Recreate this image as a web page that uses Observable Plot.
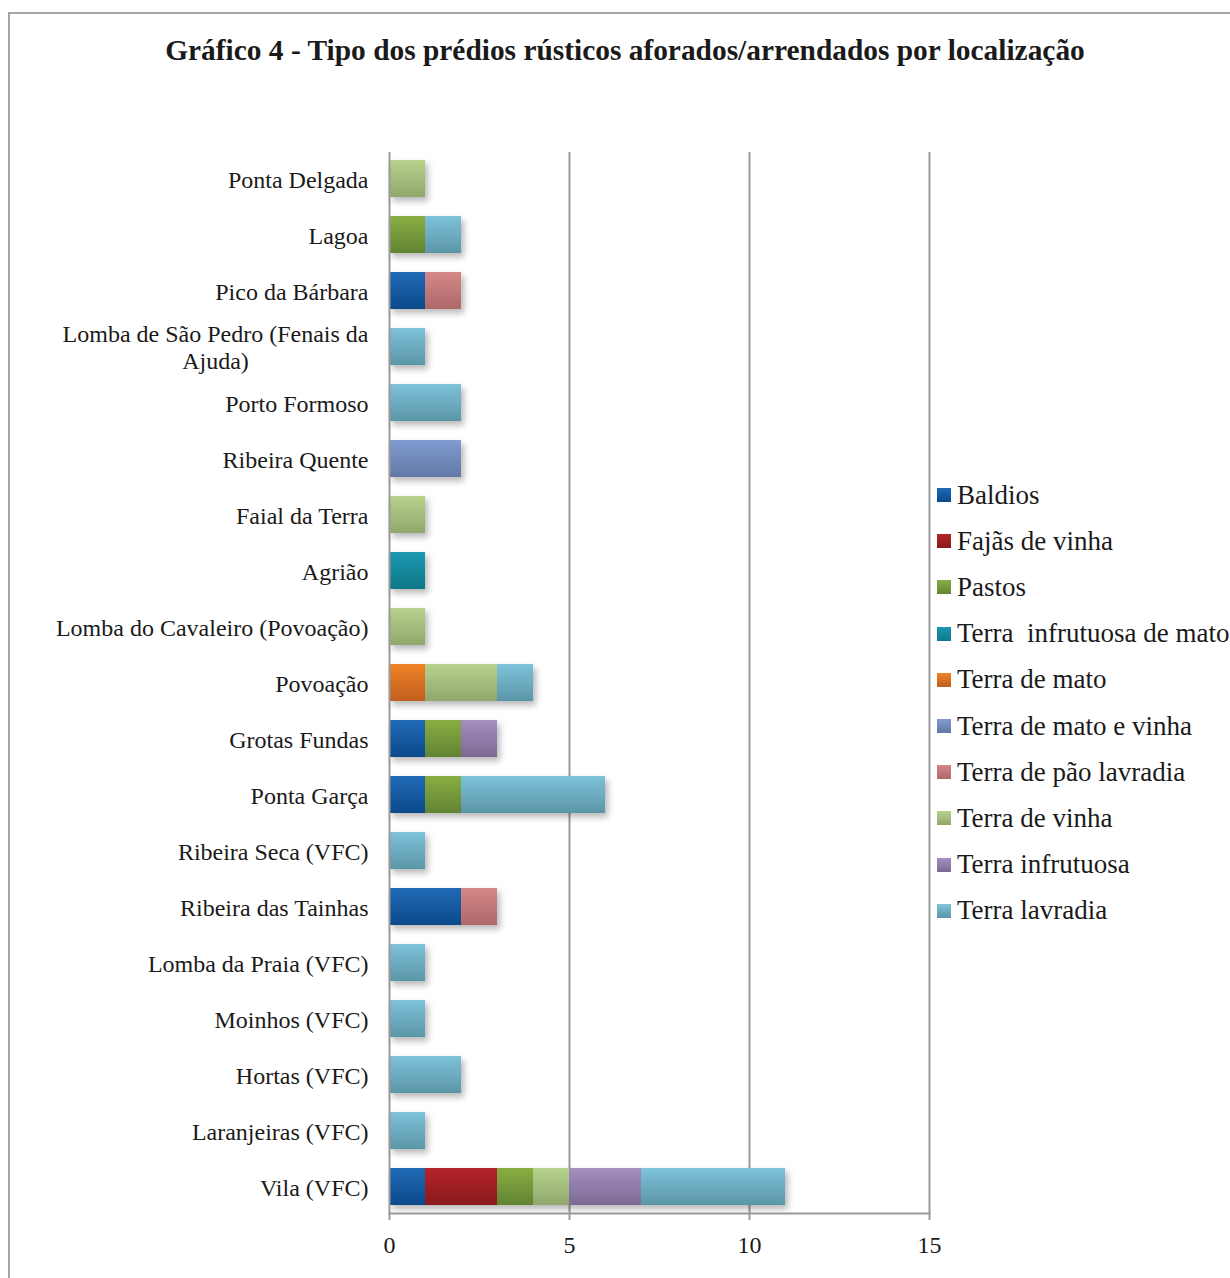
<!DOCTYPE html>
<html>
<head>
<meta charset="utf-8">
<script src="https://cdn.jsdelivr.net/npm/d3@7"></script>
<script src="https://cdn.jsdelivr.net/npm/@observablehq/plot@0.6"></script>
<style>
  html, body { margin: 0; padding: 0; background: #fff; overflow: hidden; }
  #page { position: relative; width: 1230px; height: 1278px; overflow: hidden; font-family: "Liberation Serif", "Times New Roman", serif; color: #1a1a1a; }
  #frame { position: absolute; left: 8px; top: 12px; width: 1400px; height: 1400px; border: 2px solid #a6a6a6; box-sizing: border-box; }
  #title { position: absolute; left: 8px; width: 1234px; top: 31px; text-align: center; font-weight: bold; font-size: 29.4px; line-height: 38px; }
  #chart { position: absolute; left: 0; top: 0; }
  #legend { position: absolute; left: 937px; top: 472px; }
  .item { height: 46.2px; display: flex; align-items: center; font-size: 27px; white-space: pre; }
  .sw { width: 14px; height: 14px; margin-right: 6px; flex: none; }
</style>
</head>
<body>
<div id="page">
  <div id="frame"></div>
  <div id="title"></div>
  <div id="chart"></div>
  <div id="legend"></div>
</div>
<script>
const title = "Gráfico 4 - Tipo dos prédios rústicos aforados/arrendados por localização";

const categories = [
  "Ponta Delgada", "Lagoa", "Pico da Bárbara", "Lomba de São Pedro (Fenais da Ajuda)",
  "Porto Formoso", "Ribeira Quente", "Faial da Terra", "Agrião",
  "Lomba do Cavaleiro (Povoação)", "Povoação", "Grotas Fundas", "Ponta Garça",
  "Ribeira Seca (VFC)", "Ribeira das Tainhas", "Lomba da Praia (VFC)", "Moinhos (VFC)",
  "Hortas (VFC)", "Laranjeiras (VFC)", "Vila (VFC)"
];

const series = [
  "Baldios", "Fajãs de vinha", "Pastos", "Terra  infrutuosa de mato", "Terra de mato",
  "Terra de mato e vinha", "Terra de pão lavradia", "Terra de vinha", "Terra infrutuosa", "Terra lavradia"
];

// values per series, aligned with categories (top to bottom)
const baldios          = [0,0,1,0,0,0,0,0,0,0,1,1,0,2,0,0,0,0,1];
const fajasDeVinha     = [0,0,0,0,0,0,0,0,0,0,0,0,0,0,0,0,0,0,2];
const pastos           = [0,1,0,0,0,0,0,0,0,0,1,1,0,0,0,0,0,0,1];
const terraInfrutMato  = [0,0,0,0,0,0,0,1,0,0,0,0,0,0,0,0,0,0,0];
const terraDeMato      = [0,0,0,0,0,0,0,0,0,1,0,0,0,0,0,0,0,0,0];
const terraMatoVinha   = [0,0,0,0,0,2,0,0,0,0,0,0,0,0,0,0,0,0,0];
const terraPaoLavradia = [0,0,1,0,0,0,0,0,0,0,0,0,0,1,0,0,0,0,0];
const terraDeVinha     = [1,0,0,0,0,0,1,0,1,2,0,0,0,0,0,0,0,0,1];
const terraInfrutuosa  = [0,0,0,0,0,0,0,0,0,0,1,0,0,0,0,0,0,0,2];
const terraLavradia    = [0,1,0,1,2,0,0,0,0,1,0,4,1,0,1,1,2,1,4];

const seriesValues = [baldios, fajasDeVinha, pastos, terraInfrutMato, terraDeMato,
  terraMatoVinha, terraPaoLavradia, terraDeVinha, terraInfrutuosa, terraLavradia];

// gradient colours: [top, bottom]
const colorsTop    = ["#2169b5", "#b42329", "#88ae42", "#1c99b1", "#ef8226", "#819cd2", "#d68888", "#b7d28c", "#a48fbf", "#7ec3da"];
const colorsBottom = ["#0a4a8b", "#881a1c", "#628333", "#0e7889", "#c05f1f", "#6278a6", "#ad6868", "#90a76d", "#7b6994", "#5b95a8"];

const xTicks = [0, 5, 10, 15];
const gridValues = [5, 10, 15];

const tickLabel = {"Lomba de São Pedro (Fenais da Ajuda)": "Lomba de São Pedro (Fenais da\nAjuda)"};

const rows = [];
categories.forEach((c, ci) => {
  series.forEach((s, si) => {
    const v = seriesValues[si][ci];
    if (v > 0) rows.push({category: c, series: s, value: v});
  });
});

document.getElementById("title").textContent = title;

const W = 1230, H = 1278;
const chart = Plot.plot({
  width: W,
  height: H,
  marginLeft: 389,
  marginRight: W - 929,
  marginTop: 152,
  marginBottom: H - 1213,
  style: {fontFamily: "'Liberation Serif', 'Times New Roman', serif", fontSize: "24px", color: "#1a1a1a", background: "transparent"},
  x: {domain: [0, 15], ticks: xTicks},
  y: {domain: categories, paddingInner: 0.34, paddingOuter: 0},
  color: {domain: series, range: series.map((s, i) => `url(#grad${i})`)},
  marks: [
    Plot.ruleX(gridValues, {stroke: "#9a9a9a", strokeWidth: 2}),
    Plot.barX(rows, Plot.stackX({y: "category", x: "value", fill: "series", order: null})),
    Plot.ruleX([0], {stroke: "#9a9a9a", strokeWidth: 2}),
    Plot.frame({anchor: "bottom", stroke: "#9a9a9a", strokeWidth: 2}),
    Plot.axisX({ticks: xTicks, tickSize: 7, tickPadding: 15, stroke: "#9a9a9a", strokeWidth: 2, fontSize: 24, label: null, tickFormat: d => String(d)}),
    Plot.axisY({tickSize: 0, tickPadding: 21, fontSize: 24, lineHeight: 1.12, label: null, tickFormat: d => tickLabel[d] || d})
  ]
});

// gradients
const svgNS = "http://www.w3.org/2000/svg";
const defs = document.createElementNS(svgNS, "defs");
series.forEach((s, i) => {
  const g = document.createElementNS(svgNS, "linearGradient");
  g.setAttribute("id", `grad${i}`);
  g.setAttribute("x1", "0"); g.setAttribute("y1", "0");
  g.setAttribute("x2", "0"); g.setAttribute("y2", "1");
  [[0, colorsTop[i]], [1, colorsBottom[i]]].forEach(([o, c]) => {
    const st = document.createElementNS(svgNS, "stop");
    st.setAttribute("offset", o);
    st.setAttribute("stop-color", c);
    g.appendChild(st);
  });
  defs.appendChild(g);
});
chart.insertBefore(defs, chart.firstChild);

document.getElementById("chart").appendChild(chart);

// drop shadow on bars
d3.select(chart).selectAll("g[aria-label='bar']").style("filter", "drop-shadow(3px 4px 3px rgba(0,0,0,0.28))");

// center multi-line y tick labels like the original
d3.select(chart).selectAll("g[aria-label='y-axis tick label'] text").each(function() {
  const tspans = this.querySelectorAll("tspan");
  if (tspans.length > 1) {
    let w = 0;
    tspans.forEach(t => { w = Math.max(w, t.getComputedTextLength()); });
    this.setAttribute("text-anchor", "middle");
    tspans.forEach(t => t.setAttribute("x", -w / 2));
  }
});

// legend
const legend = d3.select("#legend");
series.forEach((s, i) => {
  const it = legend.append("div").attr("class", "item");
  it.append("div").attr("class", "sw").style("background", `linear-gradient(${colorsTop[i]}, ${colorsBottom[i]})`);
  it.append("span").text(s);
});
</script>
</body>
</html>
